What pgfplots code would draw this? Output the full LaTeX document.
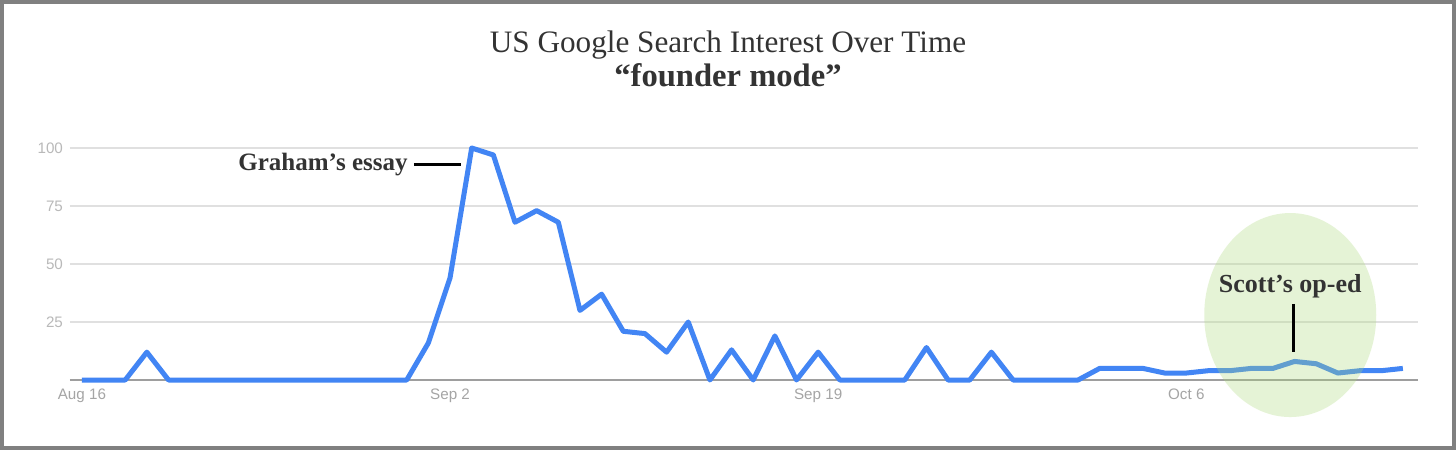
\documentclass[border=0pt]{standalone}
\usepackage{fontspec}
\setmainfont{Liberation Serif}
\newfontfamily\tickfont{Liberation Sans}
\usepackage{pgfplots}
\pgfplotsset{compat=1.18}

\definecolor{trendblue}{RGB}{66,133,244}
\definecolor{gridgray}{RGB}{224,224,224}
\definecolor{basegray}{RGB}{158,158,158}
\definecolor{ticklbl}{RGB}{185,185,185}
\definecolor{xticklbl}{RGB}{165,165,165}
\definecolor{titlegray}{RGB}{51,51,51}
\definecolor{framegray}{RGB}{128,128,128}
\definecolor{blobgreen}{RGB}{172,218,122}

\begin{document}
\begin{tikzpicture}
% 1 px of the reference = 0.5pt
\useasboundingbox (0,0) rectangle (728pt,225pt);
\fill[white] (0,0) rectangle (728pt,225pt);
\draw[framegray, line width=2pt] (1pt,1pt) rectangle (727pt,224pt);

\node[anchor=base, text=titlegray, font=\fontsize{15.6}{17}\selectfont] at (364pt,198.5pt)
  {US Google Search Interest Over Time};
\node[anchor=base, text=titlegray, font=\fontsize{16.3}{18}\selectfont\bfseries] at (364pt,181.5pt)
  {“founder mode”};

\begin{axis}[
    at={(35pt,35pt)}, anchor=south west,
    scale only axis, width=674pt, height=116pt,
    xmin=-0.55, xmax=61.7, ymin=0, ymax=100,
    clip=false,
    axis line style={draw=none},
    major tick length=0pt,
    xtick={0,17,34,51},
    xticklabels={Aug 16,Sep 2,Sep 19,Oct 6},
    ytick={25,50,75,100},
    ymajorgrids,
    grid style={gridgray, line width=0.6pt},
    extra y ticks={0},
    extra y tick labels={},
    extra y tick style={grid style={basegray, line width=0.8pt}},
    /pgf/number format/assume math mode=true,
    ticklabel style={font=\tickfont\fontsize{7.6}{9}\selectfont, text=ticklbl},
    xticklabel style={yshift=-1pt, text=xticklbl},
]
\addplot[trendblue, line width=2.5pt, line join=round, mark=none] coordinates {
  (0,0) (1,0) (2,0) (3,12) (4,0) (5,0) (6,0) (7,0) (8,0) (9,0)
  (10,0) (11,0) (12,0) (13,0) (14,0) (15,0) (16,16) (17,44) (18,100) (19,97)
  (20,68) (21,73) (22,68) (23,30) (24,37) (25,21) (26,20) (27,12) (28,25) (29,0)
  (30,13) (31,0) (32,19) (33,0) (34,12) (35,0) (36,0) (37,0) (38,0) (39,14)
  (40,0) (41,0) (42,12) (43,0) (44,0) (45,0) (46,0) (47,5) (48,5) (49,5)
  (50,3) (51,3) (52,4) (53,4) (54,5) (55,5) (56,8) (57,7) (58,3) (59,4)
  (60,4) (61,5)
};

% highlight round Scott's op-ed
\fill[blobgreen, opacity=0.3] (axis cs:55.8,28) ellipse [x radius=43pt, y radius=51pt];

\node[anchor=base east, inner sep=0pt, text=titlegray, font=\fontsize{12.5}{14}\selectfont\bfseries]
  at (axis cs:15.06,90.5) {Graham’s essay};
\draw[black, line width=1.5pt] (axis cs:15.33,92.7) -- (axis cs:17.5,92.7);

\node[anchor=base, inner sep=0pt, text=titlegray, font=\fontsize{13}{15}\selectfont\bfseries]
  at (axis cs:55.8,37.9) {Scott’s op-ed};
\draw[black, line width=1.5pt] (axis cs:55.93,32.8) -- (axis cs:55.93,12.1);
\end{axis}
\end{tikzpicture}
\end{document}
